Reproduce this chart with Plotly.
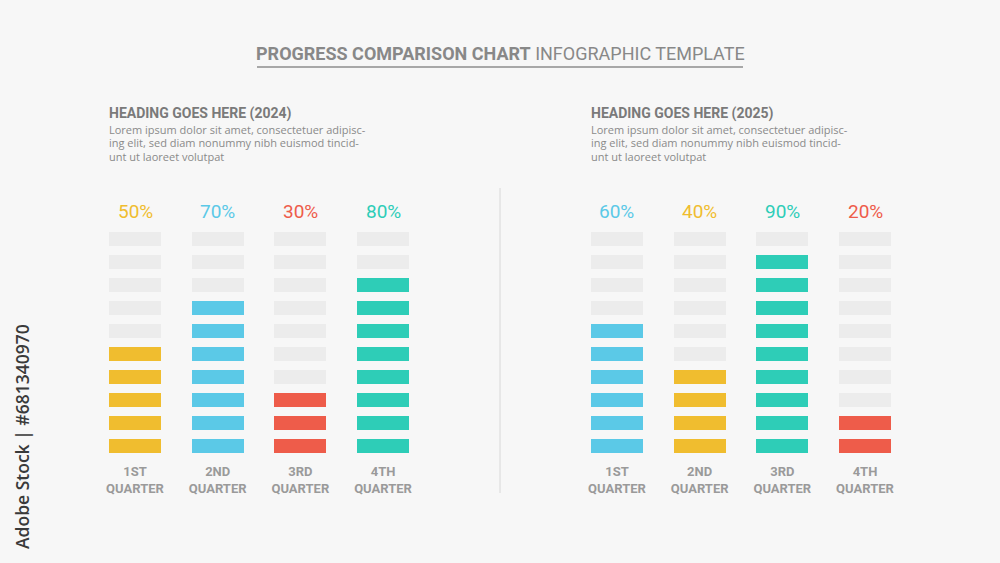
import plotly.graph_objects as go

# ---- data ----
quarters = ["1ST<br>QUARTER", "2ND<br>QUARTER", "3RD<br>QUARTER", "4TH<br>QUARTER"]
values_2024 = [50, 70, 30, 80]
values_2025 = [60, 40, 90, 20]
headings = ["HEADING GOES HERE (2024)", "HEADING GOES HERE (2025)"]
lorem_lines = [
    "Lorem ipsum dolor sit amet, consectetuer adipisc-",
    "ing elit, sed diam nonummy nibh euismod tincid-",
    "unt ut laoreet volutpat",
]
n_blocks = 10

YELLOW = "#F0BD2F"
BLUE = "#5BC9E7"
RED = "#EE5C4A"
TEAL = "#2ECDB7"
colors_2024 = [YELLOW, BLUE, RED, TEAL]
colors_2025 = [BLUE, YELLOW, TEAL, RED]
EMPTY = "#ECECEC"
BG = "#F7F7F7"

W, H = 1000, 563
MB = 103  # bottom margin
PH = H - MB


def paper(xp, yp):
    return xp / W, (PH - yp) / PH


fig = go.Figure()

panels = [("x", values_2024, colors_2024), ("x2", values_2025, colors_2025)]
for xa, vals, cols in panels:
    for i in range(n_blocks):
        fig.add_trace(go.Bar(
            x=list(range(len(quarters))),
            y=[0.61] * len(quarters),
            base=[i] * len(quarters),
            width=0.63,
            marker=dict(color=[c if (i + 1) * 10 <= v else EMPTY for v, c in zip(vals, cols)],
                        line=dict(width=0)),
            xaxis=xa, yaxis="y",
            showlegend=False, hoverinfo="skip",
        ))

axis_common = dict(
    tickvals=list(range(len(quarters))), ticktext=quarters,
    showgrid=False, zeroline=False, showline=False, ticks="",
    tickfont=dict(family="Roboto", size=13, color="#9A9A9A", weight="bold"),
    ticklabelstandoff=2, fixedrange=True,
)
fig.update_layout(
    width=W, height=H,
    margin=dict(l=0, r=0, t=0, b=MB),
    paper_bgcolor=BG, plot_bgcolor=BG,
    barmode="overlay", bargap=0,
    xaxis=dict(domain=[0, 0.5], range=[-1.633, 4.415], anchor="y", **axis_common),
    xaxis2=dict(domain=[0.5, 1], range=[-1.415, 4.633], anchor="y", **axis_common),
    yaxis=dict(range=[-0.304, 19.696], visible=False, fixedrange=True),
)

annotations = []
# percentage labels
for xa, vals, cols in panels:
    for k, (v, c) in enumerate(zip(vals, cols)):
        annotations.append(dict(
            x=k, y=10.52, xref=xa, yref="y", text=f"{v}%", showarrow=False,
            font=dict(family="Roboto", size=19, color=c, weight="normal"),
            xanchor="center", yanchor="middle",
        ))

# title
tx, ty = paper(500, 53)
annotations.append(dict(
    x=tx, y=ty, xref="paper", yref="paper", showarrow=False,
    text="<b>PROGRESS COMPARISON CHART</b> INFOGRAPHIC TEMPLATE",
    font=dict(family="Roboto", size=18, color="#888888"),
    xanchor="center", yanchor="middle",
))

# headings and lorem
for hx, head in zip([109, 591], headings):
    x, y = paper(hx - 2, 113)
    annotations.append(dict(
        x=x, y=y, xref="paper", yref="paper", showarrow=False, text=f"<b>{head}</b>",
        font=dict(family="Roboto", size=14, color="#7A7A7A"),
        xanchor="left", yanchor="middle",
    ))
    for j, line in enumerate(lorem_lines):
        x, y = paper(hx - 2, 129 + 13.5 * j)
        annotations.append(dict(
            x=x, y=y, xref="paper", yref="paper", showarrow=False, text=line,
            font=dict(family="Open Sans", size=11, color="#8A8A8A"),
            xanchor="left", yanchor="middle", align="left",
        ))

# watermark side text
x, y = paper(22, 437)
annotations.append(dict(
    x=x, y=y, xref="paper", yref="paper", showarrow=False,
    text="Adobe Stock | #681340970", textangle=-90,
    font=dict(family="Open Sans", size=17.5, color="#3A3A3A", weight=600),
    xanchor="center", yanchor="middle",
))
fig.update_layout(annotations=annotations)

# shapes: underline and divider
ux0, uy = paper(257, 67)
ux1, _ = paper(743, 67)
dx, dy0 = paper(500, 188)
_, dy1 = paper(500, 493)
fig.update_layout(shapes=[
    dict(type="line", xref="paper", yref="paper", x0=ux0, x1=ux1, y0=uy, y1=uy,
         line=dict(color="#A8A8A8", width=2)),
    dict(type="line", xref="paper", yref="paper", x0=dx, x1=dx, y0=dy0, y1=dy1,
         line=dict(color="#D8D8D8", width=1)),
])

fig.write_html(
    "out.html",
    config={"displayModeBar": False, "staticPlot": True},
    post_script="document.body.style.margin='0';document.body.style.background='#F7F7F7';",
)
